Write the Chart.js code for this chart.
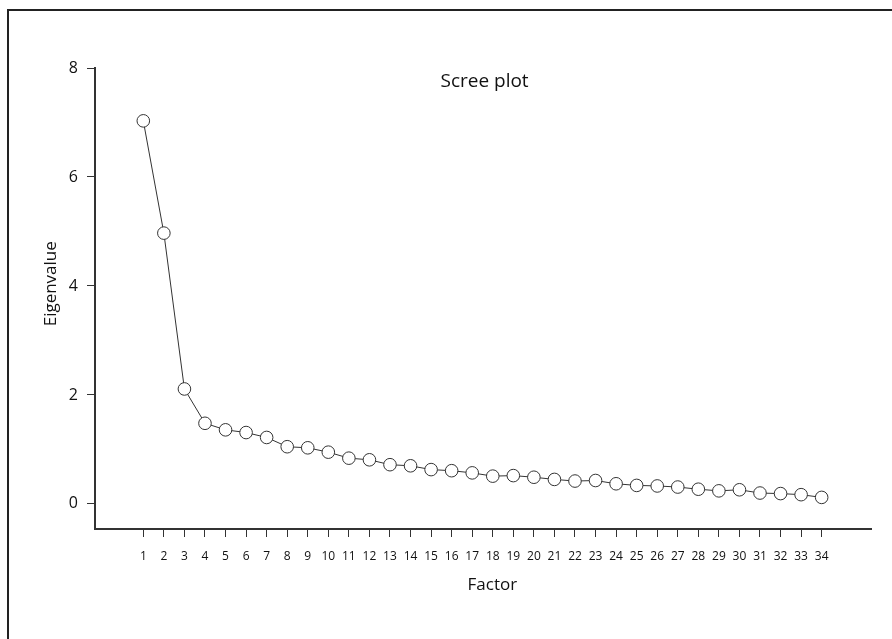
<!DOCTYPE html>
<html lang="en">
    <head>
        <meta charset="UTF-8">
        <script src="https://cdn.jsdelivr.net/npm/chart.js"></script>
        <title>Scree plot</title>
        <style>
            body { margin:0; background:#fff; }
            #wrap { position:relative; width:892px; height:639px; overflow:hidden; }
            #frame { position:absolute; left:7px; top:9px; width:1000px; height:1000px;
                     border-top:2px solid #222; border-left:2px solid #222; }
            #screeChart { position:absolute; left:0; top:0; }
        </style>
    </head>
    <body>
        <div id="wrap">
            <div id="frame"></div>
            <canvas id="screeChart" width="892" height="639"></canvas>
        </div>

        <script>
            // factor numbers along the x axis
            var factors = [1,2,3,4,5,6,7,8,9,10,11,12,13,14,15,16,17,18,19,20,
                           21,22,23,24,25,26,27,28,29,30,31,32,33,34];
            // eigenvalue of each factor
            var eigenvalues = [7.03,4.97,2.11,1.48,1.36,1.31,1.22,1.05,1.03,0.95,
                               0.84,0.81,0.72,0.70,0.63,0.61,0.57,0.51,0.52,0.49,
                               0.45,0.42,0.43,0.37,0.34,0.33,0.31,0.27,0.24,0.26,
                               0.20,0.19,0.17,0.12];
            var yTicks = [0,2,4,6,8];

            var chartTitle = "Scree plot";
            var xTitle = "Factor";
            var yTitle = "Eigenvalue";

            var fontName = "'Open Sans', 'Noto Sans', sans-serif";
            var ink = '#111';

            // draw the chart title and the axis titles as text
            var textPlugin = {
                id: 'textPlugin',
                afterDraw: function(chart){
                    var ctx = chart.ctx;
                    var area = chart.chartArea;
                    ctx.save();
                    ctx.fillStyle = ink;
                    ctx.textAlign = 'center';
                    ctx.textBaseline = 'alphabetic';

                    ctx.font = '19px ' + fontName;
                    ctx.fillText(chartTitle, area.left + (area.right - area.left) * 0.502, area.top + 19);

                    ctx.font = '17px ' + fontName;
                    ctx.fillText(xTitle, area.left + (area.right - area.left) * 0.512, area.bottom + 61);

                    ctx.translate(56, area.top + (area.bottom - area.top) * 0.468);
                    ctx.rotate(-Math.PI / 2);
                    ctx.fillText(yTitle, 0, 0);
                    ctx.restore();
                }
            };

            function createChart(){
                var ctx = document.getElementById('screeChart');
                var points = [];
                for (var i = 0; i < factors.length; i++){
                    points.push({x: factors[i], y: eigenvalues[i]});
                }

                new Chart(ctx, {
                    type: 'line',
                    data: {
                        datasets: [{
                            data: points,
                            borderColor: '#333',
                            borderWidth: 1,
                            pointRadius: 6.3,
                            pointBackgroundColor: '#fff',
                            pointBorderColor: '#333',
                            pointBorderWidth: 1,
                            tension: 0
                        }]
                    },
                    options: {
                        responsive: false,
                        animation: false,
                        layout: { padding: { top: 68, right: 21, bottom: 0, left: 0 } },
                        plugins: { legend: { display: false }, tooltip: { enabled: false } },
                        scales: {
                            x: {
                                type: 'linear',
                                min: -1.35,
                                max: 36.4,
                                afterBuildTicks: function(scale){
                                    scale.ticks = factors.map(function(v){ return {value: v}; });
                                },
                                afterFit: function(scale){ scale.height = 110; },
                                grid: { drawOnChartArea: false, tickLength: 8, color: '#333', tickWidth: 1 },
                                border: { color: '#333', width: 2 },
                                ticks: {
                                    autoSkip: false, maxRotation: 0, padding: 12,
                                    color: ink, font: { family: fontName, size: 12 }
                                }
                            },
                            y: {
                                min: -0.46,
                                max: 8,
                                afterBuildTicks: function(scale){
                                    scale.ticks = yTicks.map(function(v){ return {value: v}; });
                                },
                                afterFit: function(scale){ scale.width = 95; },
                                grid: { drawOnChartArea: false, tickLength: 8, color: '#333', tickWidth: 1 },
                                border: { color: '#333', width: 2 },
                                ticks: {
                                    padding: 9,
                                    color: ink, font: { family: fontName, size: 16 }
                                }
                            }
                        }
                    },
                    plugins: [textPlugin]
                });
            }

            window.onload = createChart;
        </script>
    </body>
</html>
